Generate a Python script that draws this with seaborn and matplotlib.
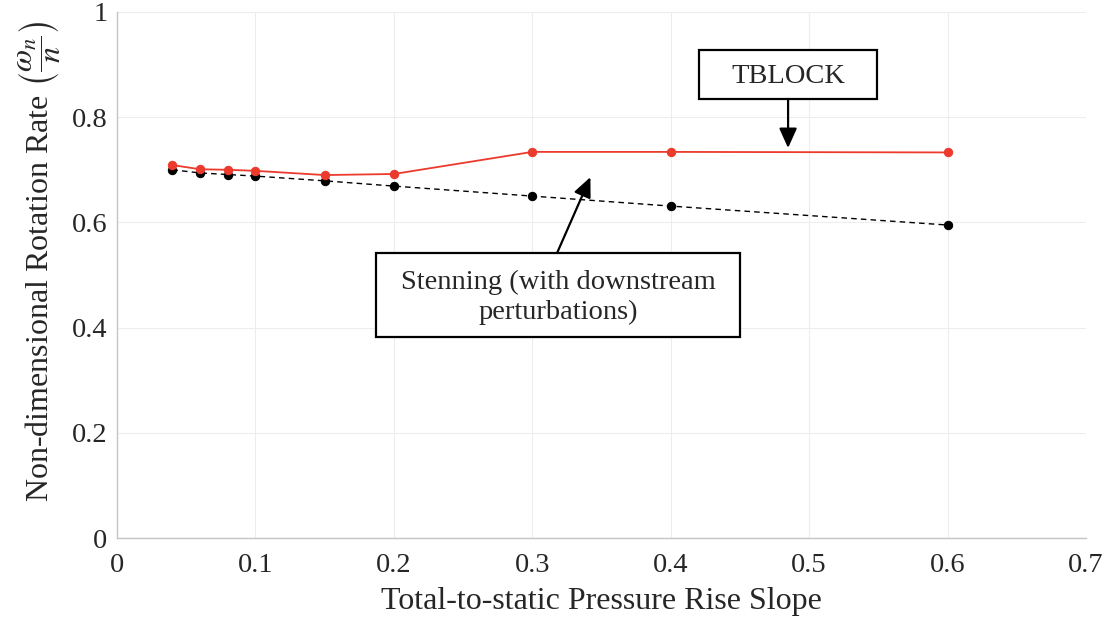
import matplotlib
matplotlib.use("Agg")
import matplotlib.pyplot as plt
from matplotlib.patches import Rectangle
import seaborn as sns
import pandas as pd

# Pressure rise slope values and non-dimensional rotation rates
slope = [0.04, 0.06, 0.08, 0.10, 0.15, 0.20, 0.30, 0.40, 0.60]
tblock = [0.709, 0.701, 0.700, 0.698, 0.690, 0.692, 0.734, 0.734, 0.733]
stenning = [0.700, 0.694, 0.691, 0.688, 0.679, 0.669, 0.650, 0.631, 0.595]

x_ticks = [0, 0.1, 0.2, 0.3, 0.4, 0.5, 0.6, 0.7]
y_ticks = [0, 0.2, 0.4, 0.6, 0.8, 1.0]
x_tick_labels = ["0", "0.1", "0.2", "0.3", "0.4", "0.5", "0.6", "0.7"]
y_tick_labels = ["0", "0.2", "0.4", "0.6", "0.8", "1"]

sns.set_theme(style="whitegrid")
plt.rcParams["font.family"] = ["Liberation Serif", "DejaVu Serif"]
plt.rcParams["mathtext.fontset"] = "stix"

fig = plt.figure(figsize=(11.07, 6.17), dpi=100)
ax = fig.add_axes([0.1057, 0.128, 0.8753, 0.8526])

df_t = pd.DataFrame({"x": slope, "y": tblock})
df_s = pd.DataFrame({"x": slope, "y": stenning})

sns.lineplot(data=df_s, x="x", y="y", ax=ax, color="black", linestyle=(0, (4, 3)),
             linewidth=1.0, marker="o", markersize=6, markeredgecolor="black",
             markerfacecolor="black")
sns.lineplot(data=df_t, x="x", y="y", ax=ax, color="#ec3a2d", linewidth=1.3,
             marker="o", markersize=6, markeredgecolor="#ec3a2d",
             markerfacecolor="#ec3a2d")

ax.set_xlim(0, 0.7)
ax.set_ylim(0, 1)
ax.set_xticks(x_ticks)
ax.set_xticklabels(x_tick_labels)
ax.set_yticks(y_ticks)
ax.set_yticklabels(y_tick_labels)
ax.tick_params(axis="both", labelsize=20.5, length=4, width=0.8, direction="in",
               color="#bdbdbd", pad=7, labelcolor="#262626")
ax.tick_params(axis="x", pad=11)
ax.grid(True, color="#ededed", linewidth=0.8)
for side in ["top", "right"]:
    ax.spines[side].set_visible(False)
for side in ["left", "bottom"]:
    ax.spines[side].set_color("#c4c4c4")
    ax.spines[side].set_linewidth(1.0)

ax.set_xlabel("Total-to-static Pressure Rise Slope", fontsize=23, labelpad=6,
              color="#262626")
ax.set_ylabel(r"Non-dimensional Rotation Rate $\left(\dfrac{\omega_n}{n}\right)$",
              fontsize=23, color="#262626")
ax.yaxis.set_label_coords(-0.056, 0.527)

arrow = dict(arrowstyle="-|>,head_length=0.6,head_width=0.27", color="black",
             linewidth=1.6, shrinkA=0, shrinkB=0, mutation_scale=20)
frame = dict(facecolor="white", edgecolor="black", linewidth=1.6, zorder=4)

# TBLOCK callout
ax.add_patch(Rectangle((0.4205, 0.8346), 0.1286, 0.0932, **frame))
ax.text(0.4848, 0.878, "TBLOCK", fontsize=20.5, ha="center", va="center", zorder=5)
ax.annotate("", xy=(0.4848, 0.7414), xytext=(0.4848, 0.8346),
            arrowprops=arrow, zorder=5)

# Stenning callout
ax.add_patch(Rectangle((0.1871, 0.3821), 0.2630, 0.1597, **frame))
ax.text(0.3187, 0.457, "Stenning (with downstream\nperturbations)", fontsize=20.5,
        ha="center", va="center", linespacing=1.25, zorder=5)
ax.annotate("", xy=(0.342, 0.686), xytext=(0.3179, 0.5418),
            arrowprops=arrow, zorder=5)

fig.savefig("out.png", dpi=100)
